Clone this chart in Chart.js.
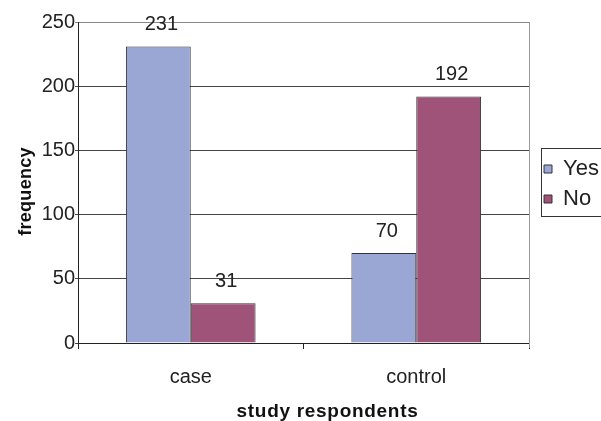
<!DOCTYPE html>
<html>
<head>
<meta charset="utf-8">
<script src="https://cdn.jsdelivr.net/npm/chart.js@4"></script>
<style>
  html, body { margin: 0; padding: 0; background: #fff; }
  #wrap { width: 601px; height: 421px; }
</style>
</head>
<body>
<div id="wrap"><canvas id="freqChart" width="601" height="421"></canvas></div>
<script>
const categories = ['case', 'control'];
const yesValues = [231, 70];
const noValues = [31, 192];
const yTicks = [0, 50, 100, 150, 200, 250];

const fontName = '"Liberation Sans", Arial, sans-serif';

// draws the value above each bar
const barLabels = {
    id: 'barLabels',
    afterDatasetsDraw(chart) {
        const ctx = chart.ctx;
        ctx.save();
        ctx.font = '20px ' + fontName;
        ctx.fillStyle = '#222';
        ctx.textAlign = 'center';
        ctx.textBaseline = 'bottom';
        chart.data.datasets.forEach((ds, i) => {
            chart.getDatasetMeta(i).data.forEach((bar, j) => {
                ctx.fillText(ds.data[j], bar.x + 3, bar.y - 12);
            });
        });
        ctx.restore();
    }
};

// legend placement + frame, grey right edge of the plot
const extras = {
    id: 'extras',
    afterInit(chart) {
        const lg = chart.legend;
        const fit = lg.fit;
        lg.fit = function () {
            fit.call(this);
            this.width = 72;
        };
    },
    afterLayout(chart) {
        const lg = chart.legend;
        lg.left = 536;
        lg.right = 601;
        lg.top = 150;
        lg.bottom = 218;
    },
    afterDraw(chart) {
        const ctx = chart.ctx;
        const a = chart.chartArea;
        ctx.save();
        ctx.strokeStyle = '#9a9a9a';
        ctx.lineWidth = 1;
        ctx.beginPath();
        ctx.moveTo(Math.round(a.right) + 0.5, a.top);
        ctx.lineTo(Math.round(a.right) + 0.5, a.bottom + 5);
        ctx.stroke();
        ctx.strokeStyle = '#333';
        ctx.strokeRect(541.5, 148.5, 70, 68);
        ctx.restore();
    }
};

// shift an axis title a little and give it some spacing
function tweakTitle(scale, dx, dy, spacing) {
    if (scale._tweaked) return;
    const drawTitle = scale.drawTitle;
    scale.drawTitle = function () {
        this.ctx.save();
        this.ctx.translate(dx, dy);
        this.ctx.letterSpacing = spacing;
        drawTitle.call(this);
        this.ctx.restore();
    };
    scale._tweaked = true;
}

const ctx = document.getElementById('freqChart').getContext('2d');

const freqChart = new Chart(ctx, {
    type: 'bar',
    data: {
        labels: categories,
        datasets: [{
            label: 'Yes',
            data: yesValues,
            backgroundColor: '#9aa6d4',
            borderColor: '#333',
            borderWidth: 1,
        }, {
            label: 'No',
            data: noValues,
            backgroundColor: '#a05379',
            borderColor: '#333',
            borderWidth: 1,
        }],
    },
    options: {
        responsive: false,
        animation: false,
        devicePixelRatio: 1,
        layout: { padding: { top: 22, left: 0, right: 0, bottom: 0 } },
        datasets: { bar: { barPercentage: 1, categoryPercentage: 0.575 } },
        plugins: {
            legend: {
                position: 'right',
                labels: {
                    font: { family: fontName, size: 22 },
                    color: '#222',
                    boxWidth: 8,
                    boxHeight: 8,
                    padding: 8,
                },
            },
            tooltip: { enabled: false },
        },
        scales: {
            x: {
                grid: {
                    offset: true,
                    drawOnChartArea: false,
                    color: '#222',
                    tickLength: 6,
                },
                border: { color: '#222', width: 1 },
                ticks: {
                    font: { family: fontName, size: 20 },
                    color: '#222',
                    padding: 16,
                },
                title: {
                    display: true,
                    text: 'study respondents',
                    font: { family: fontName, size: 19, weight: 'bold' },
                    color: '#111',
                    padding: { top: 6, bottom: -2 },
                },
                afterFit(scale) {
                    scale.height = 78;
                    tweakTitle(scale, 24, 0, '0.7px');
                },
            },
            y: {
                min: 0,
                max: 250,
                afterBuildTicks(scale) {
                    scale.ticks = yTicks.map(v => ({ value: v }));
                },
                grid: {
                    color: (c) => c.tick && c.tick.value === 250 ? '#888' : '#444',
                    tickLength: 3,
                },
                border: { color: '#222', width: 1 },
                ticks: {
                    font: { family: fontName, size: 20 },
                    color: '#222',
                    padding: 0,
                },
                title: {
                    display: true,
                    text: 'frequency',
                    font: { family: fontName, size: 18, weight: 'bold' },
                    color: '#111',
                    padding: { top: 15, bottom: 0 },
                },
                afterFit(scale) {
                    scale.width = 78;
                    tweakTitle(scale, 0, 9, '0.3px');
                },
            },
        },
    },
    plugins: [barLabels, extras],
});
</script>
</body>
</html>
